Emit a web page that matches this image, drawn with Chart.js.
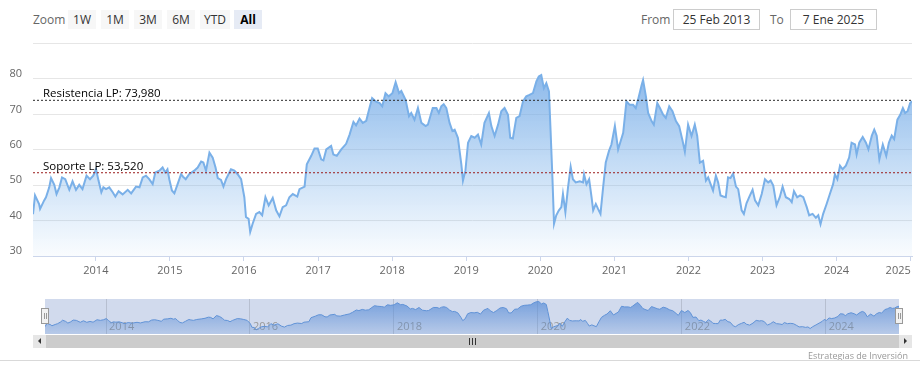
<!DOCTYPE html>
<html>
<head>
<meta charset="utf-8">
<script src="https://cdn.jsdelivr.net/npm/chart.js@4.4.1/dist/chart.umd.min.js"></script>
<style>
  body { margin: 0; background: #fff; font-family: "Open Sans", Arial, sans-serif; }
  #wrap { position: relative; width: 920px; height: 376px; overflow: hidden; }
  .zoomLbl { position: absolute; left: 33px; top: 11px; font-size: 12px; color: #666; }
  .rbtn { position: absolute; top: 10px; height: 19px; width: 28px; background: #f7f7f7; color: #333;
          font-size: 12px; line-height: 19px; text-align: center; }
  .rbtn.on { background: #e6ebf5; font-weight: bold; color: #000; }
  .dlbl { position: absolute; top: 11px; font-size: 12px; color: #666; }
  .dbox { position: absolute; top: 9px; height: 19px; width: 85px; border: 1px solid #ccc; font-size: 12px;
          color: #333; line-height: 19px; text-align: center; }
  #mainBox { position: absolute; left: 0; top: 26px; }
  #navMask { position: absolute; left: 45px; top: 299px; width: 854px; height: 35px; background: rgba(102,133,194,0.3); }
  #navBox { position: absolute; left: 0; top: 290px; }
  .handle { position: absolute; top: 308px; width: 6px; height: 14px; background: #f2f2f2; border: 1px solid #999; }
  .handle:before, .handle:after { content: ""; position: absolute; top: 4px; height: 6px; width: 1px; background: #999; }
  .handle:before { left: 2px; } .handle:after { left: 4px; }
  #sbTrack { position: absolute; left: 33px; top: 335px; width: 879px; height: 13px; background: #f2f2f2; }
  #sbThumb { position: absolute; left: 46px; top: 335px; width: 853px; height: 13px; background: #cccccc; }
  .grip { position: absolute; top: 338px; width: 1px; height: 7px; background: #333; }
  .sbBtn { position: absolute; top: 335px; width: 13px; height: 13px; background: #e6e6e6; }
  .arrL, .arrR { position: absolute; top: 3px; width: 0; height: 0; border-top: 3px solid transparent; border-bottom: 3px solid transparent; }
  .arrL { left: 5px; border-right: 3px solid #333; }
  .arrR { left: 5px; border-left: 3px solid #333; }
  #credits { position: absolute; right: 12px; top: 349px; font-size: 9px; color: #999; }
  #sep { position: absolute; left: 0; top: 360px; width: 920px; height: 1px; background: #d9d9d9; }
</style>
</head>
<body>
<div id="wrap">
  <div class="zoomLbl">Zoom</div>
  <div class="rbtn" style="left:68px">1W</div>
  <div class="rbtn" style="left:101px">1M</div>
  <div class="rbtn" style="left:134px">3M</div>
  <div class="rbtn" style="left:167px">6M</div>
  <div class="rbtn" style="left:200px;width:30px">YTD</div>
  <div class="rbtn on" style="left:234px">All</div>
  <div class="dlbl" style="left:641px">From</div>
  <div class="dbox" style="left:673px">25 Feb 2013</div>
  <div class="dlbl" style="left:770px">To</div>
  <div class="dbox" style="left:790px">7 Ene 2025</div>

  <div id="mainBox"><canvas id="main" width="920" height="260"></canvas></div>

  <div id="navMask"></div>
  <div id="navBox"><canvas id="nav" width="920" height="44"></canvas></div>
  <div class="handle" style="left:41px"></div>
  <div class="handle" style="left:895px"></div>

  <div id="sbTrack"></div>
  <div id="sbThumb"></div>
  <div class="grip" style="left:469px"></div>
  <div class="grip" style="left:472px"></div>
  <div class="grip" style="left:475px"></div>
  <div class="sbBtn" style="left:33px"><div class="arrL"></div></div>
  <div class="sbBtn" style="left:899px"><div class="arrR"></div></div>

  <div id="credits">Estrategias de Inversión</div>
  <div id="sep"></div>
</div>

<script>
// precio semanal aproximado
const dates = [
  '2013-02-25','2013-03-07','2013-03-27','2013-04-01','2013-04-21','2013-04-30','2013-05-16','2013-05-25','2013-06-10','2013-06-21',
  '2013-07-05','2013-07-18','2013-08-03','2013-08-23','2013-09-08','2013-09-25','2013-10-11','2013-10-27','2013-11-16','2013-12-03',
  '2013-12-19','2014-01-02','2014-01-14','2014-01-28','2014-02-07','2014-02-20','2014-03-08','2014-03-25','2014-04-07','2014-04-23',
  '2014-05-13','2014-06-07','2014-06-24','2014-07-18','2014-08-04','2014-08-20','2014-09-05','2014-09-21','2014-10-08','2014-10-21',
  '2014-11-10','2014-11-26','2014-12-09','2014-12-20','2014-12-29','2015-01-11','2015-01-23','2015-02-08','2015-02-25','2015-03-07',
  '2015-03-20','2015-04-06','2015-05-01','2015-05-18','2015-06-04','2015-06-15','2015-06-28','2015-07-15','2015-07-31','2015-08-14',
  '2015-08-25','2015-09-10','2015-09-22','2015-10-05','2015-10-29','2015-11-15','2015-12-01','2015-12-18','2016-01-03','2016-01-11',
  '2016-01-24','2016-02-01','2016-02-13','2016-03-01','2016-03-17','2016-03-31','2016-04-16','2016-05-02','2016-05-22','2016-06-08',
  '2016-06-24','2016-07-10','2016-07-27','2016-08-12','2016-08-29','2016-09-20','2016-10-01','2016-10-26','2016-11-06','2016-11-28',
  '2016-12-14','2016-12-30','2017-01-16','2017-01-27','2017-02-10','2017-03-06','2017-03-17','2017-04-03','2017-04-25','2017-05-19',
  '2017-06-05','2017-06-24','2017-07-07','2017-07-24','2017-08-09','2017-08-26','2017-09-11','2017-09-24','2017-10-11','2017-10-31',
  '2017-11-13','2017-11-29','2017-12-15','2018-01-02','2018-01-18','2018-02-04','2018-02-15','2018-03-08','2018-03-25','2018-04-05',
  '2018-04-21','2018-05-08','2018-05-25','2018-06-15','2018-06-26','2018-07-20','2018-08-07','2018-08-19','2018-08-31','2018-09-12',
  '2018-09-25','2018-10-11','2018-10-25','2018-11-05','2018-11-21','2018-12-08','2018-12-16','2018-12-28','2019-01-10','2019-01-26',
  '2019-02-12','2019-02-28','2019-03-16','2019-04-01','2019-04-23','2019-05-05','2019-05-21','2019-06-07','2019-06-23','2019-07-09',
  '2019-07-26','2019-08-06','2019-08-19','2019-09-05','2019-09-21','2019-10-08','2019-10-24','2019-11-09','2019-11-26','2019-12-13',
  '2019-12-25','2020-01-06','2020-01-19','2020-01-31','2020-02-13','2020-02-21','2020-03-01','2020-03-09','2020-03-20','2020-04-02',
  '2020-04-14','2020-04-22','2020-05-04','2020-05-17','2020-05-30','2020-06-10','2020-06-24','2020-07-14','2020-07-30','2020-08-04',
  '2020-08-16','2020-08-29','2020-09-10','2020-09-18','2020-10-01','2020-10-12','2020-10-24','2020-11-06','2020-11-19','2020-12-05',
  '2020-12-17','2021-01-03','2021-01-19','2021-02-13','2021-03-01','2021-03-17','2021-04-03','2021-04-16','2021-04-27','2021-05-15',
  '2021-05-22','2021-06-05','2021-06-16','2021-07-03','2021-07-14','2021-07-31','2021-08-13','2021-08-29','2021-09-11','2021-09-28',
  '2021-10-14','2021-10-31','2021-11-16','2021-12-03','2021-12-14','2021-12-30','2022-01-16','2022-02-01','2022-02-13','2022-02-26',
  '2022-03-14','2022-03-28','2022-04-08','2022-04-20','2022-05-02','2022-05-16','2022-05-27','2022-06-08','2022-06-21','2022-07-04',
  '2022-07-15','2022-07-27','2022-08-09','2022-08-23','2022-09-03','2022-09-20','2022-10-01','2022-10-14','2022-10-31','2022-11-13',
  '2022-11-25','2022-12-11','2022-12-28','2023-01-13','2023-01-29','2023-02-10','2023-02-23','2023-03-11','2023-03-27','2023-04-10',
  '2023-04-26','2023-05-13','2023-05-25','2023-06-05','2023-06-21','2023-07-05','2023-07-21','2023-08-07','2023-08-19','2023-09-05',
  '2023-09-21','2023-10-03','2023-10-14','2023-10-27','2023-11-13','2023-11-29','2023-12-15','2023-12-24','2024-01-05','2024-01-18',
  '2024-01-31','2024-02-16','2024-03-03','2024-03-15','2024-04-01','2024-04-09','2024-04-22','2024-05-09','2024-05-25','2024-06-06',
  '2024-06-23','2024-07-05','2024-07-17','2024-07-30','2024-08-16','2024-09-02','2024-09-15','2024-09-29','2024-10-11','2024-10-27',
  '2024-11-10','2024-11-23','2024-12-04','2024-12-16','2024-12-29','2025-01-07'
]
const prices = [
  41.8,47.1,44.7,43.3,45.7,46.6,49.4,52.0,50.1,47.5,
  49.4,52.2,51.7,48.7,51.1,48.7,50.1,48.9,52.7,51.7,
  52.7,54.5,51.3,48.0,49.4,48.9,49.4,48.0,46.8,48.3,
  47.4,48.7,47.7,49.6,49.4,52.2,52.7,51.7,50.3,53.6,
  54.1,55.0,53.6,54.5,51.7,48.5,47.7,50.3,53.1,52.4,
  51.7,53.1,54.1,55.0,56.7,56.4,54.1,59.2,57.8,55.0,
  52.0,51.5,49.6,51.7,54.5,54.1,53.1,51.7,46.6,41.0,
  40.5,36.8,39.1,41.9,42.4,41.5,46.6,44.3,46.4,42.9,
  41.2,43.8,44.3,46.6,47.5,46.8,48.9,49.6,55.9,58.3,
  60.4,60.4,57.3,57.0,60.1,61.1,58.7,58.3,60.1,61.7,
  64.3,67.9,66.9,68.8,67.6,68.2,71.8,74.6,73.7,73.2,
  72.3,76.0,75.1,76.0,79.1,76.0,76.6,74.1,69.5,70.4,
  68.5,71.8,67.6,66.7,67.1,71.8,71.8,70.4,72.3,72.9,
  71.8,67.6,65.3,65.7,63.4,55.9,51.3,54.1,62.0,63.9,
  63.4,64.3,61.5,67.6,70.4,66.7,63.9,67.1,70.9,71.8,
  69.9,63.4,63.2,69.0,69.5,73.7,75.1,75.5,76.0,79.3,
  80.7,81.1,77.4,78.8,76.5,65.3,52.2,39.1,41.5,42.9,
  43.8,47.5,42.4,49.4,55.2,51.7,50.8,51.1,50.8,53.1,
  50.3,51.7,46.6,42.9,44.7,43.3,41.9,49.4,56.4,59.7,
  61.5,66.7,60.1,64.8,73.7,72.7,72.7,71.8,74.1,78.3,
  79.7,75.1,70.4,68.1,67.1,73.2,71.8,69.9,69.0,72.3,
  70.9,68.1,66.7,62.5,59.5,67.1,63.9,67.1,63.9,56.4,
  56.9,51.3,52.2,50.3,48.5,52.7,50.8,47.1,46.8,46.6,
  52.2,52.0,53.3,49.6,48.9,42.9,41.9,44.9,47.1,48.7,
  45.7,44.3,47.5,51.7,50.8,51.3,49.9,44.3,46.6,49.6,
  46.6,46.1,45.2,48.3,46.6,47.1,46.6,43.8,41.5,41.9,
  40.8,41.5,39.0,41.9,44.7,47.5,50.3,53.1,51.7,55.5,
  54.5,55.5,57.8,62.0,61.5,58.7,62.0,63.6,62.0,60.1,
  64.0,65.7,64.0,57.3,61.5,58.3,62.0,64.0,63.0,68.5,
  69.9,71.8,70.4,70.9,73.2,73.7
]
const levelNames = ['Resistencia LP', 'Soporte LP']
const levelValues = [73.98, 53.52]
const yearTicks = [2014, 2015, 2016, 2017, 2018, 2019, 2020, 2021, 2022, 2023, 2024, 2025]
const navYearTicks = [2014, 2016, 2018, 2020, 2022, 2024]

const levelColors = ['#2b2b2b', '#9b1c1c']
const FONT = '"Open Sans", Arial, sans-serif'

const toTime = s => { const p = s.split('-'); return Date.UTC(+p[0], +p[1] - 1, +p[2]) }
const points = dates.map((d, i) => ({ x: toTime(d), y: prices[i] }))
const xMin = points[0].x
const xMax = points[points.length - 1].x
const yearTime = y => Date.UTC(y, 0, 1)

function areaFill(c0, c1){
    return function(ctx){
        const area = ctx.chart.chartArea
        if (!area) return c1
        const g = ctx.chart.ctx.createLinearGradient(0, area.top, 0, area.bottom)
        g.addColorStop(0, c0)
        g.addColorStop(1, c1)
        return g
    }
}

const levelLabels = {
    id: 'levelLabels',
    afterDatasetsDraw(chart){
        const c = chart.ctx
        const yScale = chart.scales.y
        c.save()
        c.font = '11.5px ' + FONT
        c.fillStyle = '#000'
        c.textBaseline = 'alphabetic'
        levelNames.forEach((name, i) => {
            const txt = name + ': ' + levelValues[i].toFixed(3).replace('.', ',')
            c.fillText(txt, chart.chartArea.left + 10, yScale.getPixelForValue(levelValues[i]) - 3)
        })
        c.restore()
    }
}

const levelSets = levelValues.map((v, i) => ({
    data: [{ x: xMin, y: v }, { x: xMax, y: v }],
    borderColor: levelColors[i],
    borderWidth: 1,
    borderDash: [2, 2],
    pointRadius: 0,
    fill: false,
    order: 0
}))

var ctx = document.getElementById('main')
var mainChart = new Chart(ctx, {
    type: 'line',
    data: {
        datasets: [{
            data: points,
            borderColor: 'rgb(122,176,232)',
            borderWidth: 2,
            pointRadius: 0,
            tension: 0,
            fill: 'start',
            backgroundColor: areaFill('rgba(108,164,228,0.92)', 'rgba(124,181,236,0.04)'),
            order: 1
        }].concat(levelSets)
    },
    options: {
        responsive: false,
        animation: false,
        layout: { padding: { top: 6, right: 8, left: 0, bottom: 0 } },
        plugins: { legend: { display: false }, tooltip: { enabled: false } },
        scales: {
            x: {
                type: 'linear',
                min: xMin,
                max: xMax,
                afterBuildTicks: scale => {
                    scale.ticks = [{ value: xMin }].concat(yearTicks.map(y => ({ value: yearTime(y) })))
                },
                afterFit: scale => { scale.height = 30 },
                ticks: {
                    autoSkip: false,
                    maxRotation: 0,
                    align: 'inner',
                    padding: 3,
                    color: '#666',
                    font: { size: 11, family: FONT },
                    callback: v => v === xMin ? '' : new Date(v).getUTCFullYear()
                },
                grid: {
                    drawOnChartArea: false,
                    drawTicks: true,
                    tickLength: 5,
                    tickColor: c => (c.tick && c.tick.value === xMin) ? 'rgba(0,0,0,0)' : '#ccd6eb'
                },
                border: { display: true, color: '#ccd6eb' }
            },
            y: {
                min: 30,
                max: 90,
                afterFit: scale => { scale.width = 33 },
                ticks: {
                    stepSize: 10,
                    padding: 11,
                    labelOffset: -5,
                    color: '#666',
                    font: { size: 11, family: FONT },
                    callback: v => v === 90 ? '' : v
                },
                grid: { color: '#e6e6e6', drawTicks: false },
                border: { display: false }
            }
        }
    },
    plugins: [levelLabels]
});

var ctx = document.getElementById('nav')
var navChart = new Chart(ctx, {
    type: 'line',
    data: {
        datasets: [{
            data: points,
            borderColor: 'rgb(96,146,214)',
            borderWidth: 1,
            pointRadius: 0,
            tension: 0,
            fill: 'start',
            backgroundColor: areaFill('rgba(84,138,214,0.75)', 'rgba(84,138,214,0.2)')
        }]
    },
    options: {
        responsive: false,
        animation: false,
        layout: { padding: { top: 9, right: 21, left: 45, bottom: 0 } },
        plugins: { legend: { display: false }, tooltip: { enabled: false } },
        scales: {
            x: {
                type: 'linear',
                position: { y: 30.5 },
                min: xMin,
                max: xMax,
                afterBuildTicks: scale => {
                    scale.ticks = navYearTicks.map(y => ({ value: yearTime(y) }))
                },
                ticks: {
                    autoSkip: false,
                    maxRotation: 0,
                    align: 'start',
                    labelOffset: 3,
                    padding: -14,
                    color: '#999',
                    font: { size: 11, family: FONT },
                    callback: v => new Date(v).getUTCFullYear()
                },
                grid: { color: 'rgba(0,0,0,0.12)', drawTicks: false },
                border: { display: false }
            },
            y: { display: false, min: 30.5, max: 85 }
        }
    }
});
</script>
</body>
</html>
